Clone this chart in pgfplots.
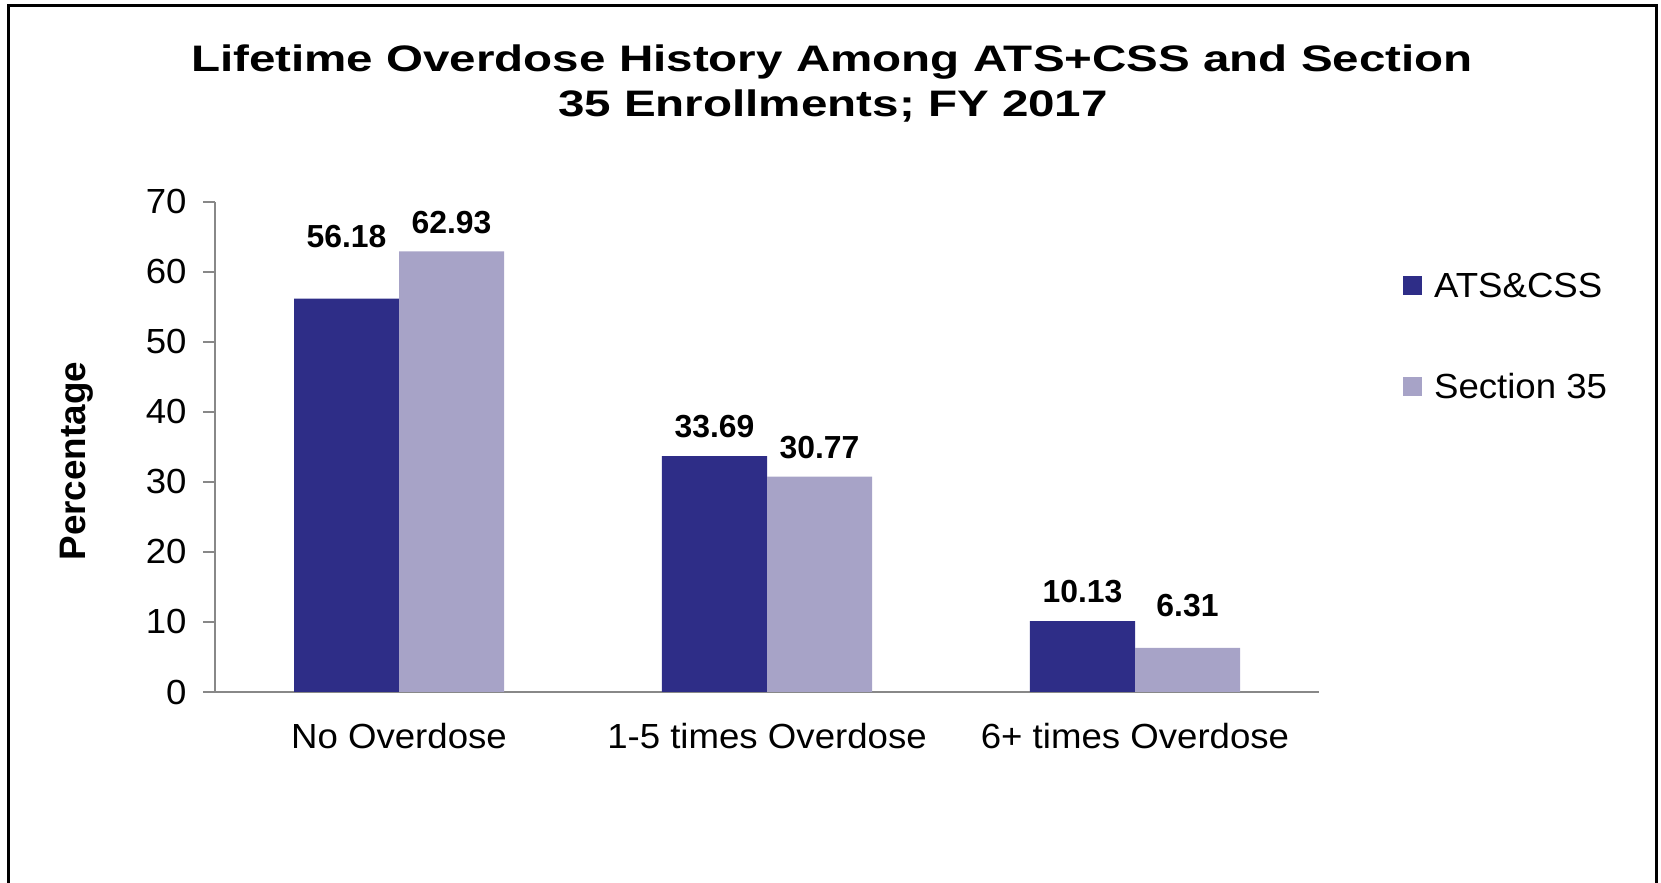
\documentclass[border=0pt]{standalone}
\usepackage{pgfplots}
\pgfplotsset{compat=1.18}
\usepackage{pgfplotstable}
\usepackage{fontspec}
\setmainfont{Liberation Sans}[FakeStretch=1.05]
\newfontfamily\titlefont{Liberation Sans}[FakeStretch=1.29]
\newfontfamily\plainfont{Liberation Sans}
\definecolor{darkbar}{RGB}{46,45,135}
\definecolor{lightbar}{RGB}{167,163,199}
\definecolor{axisgray}{RGB}{136,136,136}
\pgfplotstableread{
x y off
0 56.18 51
1 33.69 19
2 10.13 19
}\atsdata
\pgfplotstableread{
x y off
0 62.93 18
1 30.77 18
2 6.31 31
}\secdata
\begin{document}
\begin{tikzpicture}[x=1bp,y=1bp]
\useasboundingbox (0,0) rectangle (1661,882);
\draw[line width=3bp] (8.5,-5) -- (8.5,876) -- (1656,876) -- (1656,-5);
\node[anchor=base,font=\titlefont\fontsize{37}{44}\selectfont\bfseries] at (832,810) {Lifetime Overdose History Among ATS+CSS and Section};
\node[anchor=base,font=\titlefont\fontsize{37}{44}\selectfont\bfseries] at (833,765) {35 Enrollments; FY 2017};
\begin{axis}[
  at={(215bp,190bp)}, anchor=south west,
  scale only axis, width=1104bp, height=490bp,
  xmin=-0.5, xmax=2.5, ymin=0, ymax=70,
  ytick={0,10,...,70},
  xtick={0,1,2},
  xticklabels={No Overdose,1-5 times Overdose,6+ times Overdose},
  axis x line*=bottom, axis y line*=left,
  axis line style={axisgray, line width=2bp, -},
  tick align=outside, major tick length=12bp,
  ytick style={axisgray, line width=2bp},
  xtick style={draw=none},
  /pgf/number format/assume math mode=true,
  ticklabel style={font=\fontsize{35}{42}\selectfont},
  yticklabel style={xshift=-13bp},
  xticklabel style={yshift=-16bp},
  ylabel={Percentage},
  ylabel style={at={(axis description cs:-0.125,0.471)}, anchor=center, font=\plainfont\fontsize{37}{44}\selectfont\bfseries},
  ybar=0pt, bar width=105bp,
  legend style={at={(axis description cs:1.076,0.86)}, anchor=north west, draw=none, fill=none,
    font=\fontsize{35}{42}\selectfont, row sep=71bp, inner sep=0pt,
    /tikz/every odd column/.append style={column sep=10bp}},
  legend cell align=left,
  nodes near coords,
  point meta=explicit symbolic,
  visualization depends on={\thisrow{off} \as \myoff},
  nodes near coords style={anchor=base, yshift=\myoff bp, inner sep=0pt, font=\plainfont\fontsize{32}{38}\selectfont\bfseries},
]
\addplot[fill=darkbar, draw=none, area legend,
  legend image code/.code={\fill[darkbar] (0bp,-9.5bp) rectangle (19bp,9.5bp);}]
  table[x=x, y=y, meta=y] {\atsdata};
\addlegendentry{ATS\&CSS}
\addplot[fill=lightbar, draw=none, area legend,
  legend image code/.code={\fill[lightbar] (0bp,-9.5bp) rectangle (19bp,9.5bp);}]
  table[x=x, y=y, meta=y] {\secdata};
\addlegendentry{Section 35}
\end{axis}
\end{tikzpicture}
\end{document}
